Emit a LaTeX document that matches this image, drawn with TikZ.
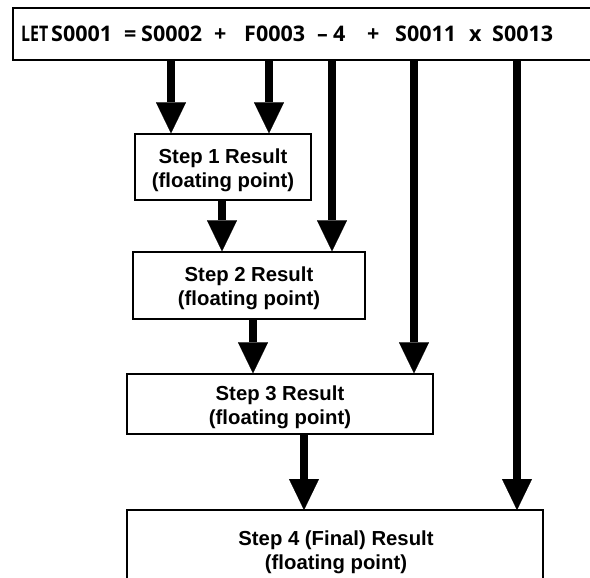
\documentclass[tikz,border=0pt]{standalone}
\usepackage{fontspec}
\setmainfont{Liberation Sans}
\newfontfamily\eqfont{Open Sans}
\usetikzlibrary{arrows.meta}
\newcommand{\fstrut}{\rule{0pt}{20.5pt}}
\begin{document}
\begin{tikzpicture}[x=1pt,y=-1pt,
  tok/.style={anchor=base west, inner sep=0pt, font=\eqfont\bfseries\fontsize{21.5}{24}\selectfont},
  stepbox/.style={draw, line width=1.3pt, rectangle, inner sep=0pt, align=center,
    font=\bfseries\fontsize{20.3}{24}\selectfont},
  steptext/.style={inner sep=0pt, align=center, font=\bfseries\fontsize{20.3}{24}\selectfont},
  flow/.style={line width=8pt, -{Triangle[width=30pt,length=31pt,line width=0.1pt]}},
  frame/.style={line width=1.6pt}]
\useasboundingbox (0,0) rectangle (590,578);

% top equation box (open on the right)
\draw[frame] (592,8) -- (13,8) -- (13,60) -- (592,60);
\node[tok] (t1) at (21,42) {\scalebox{0.74}[1]{LET}};
\node[tok] (t2) at (51,42) {S0001};
\node[tok] (t3) at (124,42) {=};
\node[tok] (t4) at (141,42) {S0002};
\node[tok] (t5) at (214,42) {+};
\node[tok] (t6) at (244,42) {F0003};
\node[tok] (t7) at (317,42) {\char"2013};
\node[tok] (t8) at (333,42) {4};
\node[tok] (t9) at (367,42) {+};
\node[tok] (t10) at (395,42) {S0011};
\node[tok] (t11) at (469,42) {x};
\node[tok] (t12) at (492,42) {S0013};

\coordinate (a1) at (171,60);
\coordinate (a2) at (269,60);
\coordinate (a3) at (332,60);
\coordinate (a4) at (414,60);
\coordinate (a5) at (517,60);

% step boxes
\node[stepbox, minimum width=176pt, minimum height=66pt] (s1) at (223,167)
  {\fstrut Step 1 Result\\(floating point)};
\node[stepbox, minimum width=232pt, minimum height=67pt] (s2) at (249,285.5)
  {\fstrut Step 2 Result\\(floating point)};
\node[stepbox, minimum width=306pt, minimum height=60pt] (s3) at (280,404)
  {\fstrut Step 3 Result\\(floating point)};

% final box, open at the bottom
\draw[line width=1.3pt] (127,580) -- (127,510) -- (543,510) -- (543,580);
\coordinate (s4) at (335,510);
\node[steptext] (s4t) at (336,549) {\fstrut Step 4 (Final) Result\\(floating point)};

% arrows
\draw[flow] (a1) -- (a1 |- s1.north);
\draw[flow] (a2) -- (a2 |- s1.north);
\draw[flow] (a3) -- (a3 |- s2.north);
\draw[flow] (a4) -- (a4 |- s3.north);
\draw[flow] (a5) -- (a5 |- s4);

\coordinate (b1) at (222,0);
\coordinate (b2) at (253,0);
\coordinate (b3) at (304,0);
\draw[flow] (b1 |- s1.south) -- (b1 |- s2.north);
\draw[flow] (b2 |- s2.south) -- (b2 |- s3.north);
\draw[flow] (b3 |- s3.south) -- (b3 |- s4);
\end{tikzpicture}
\end{document}
